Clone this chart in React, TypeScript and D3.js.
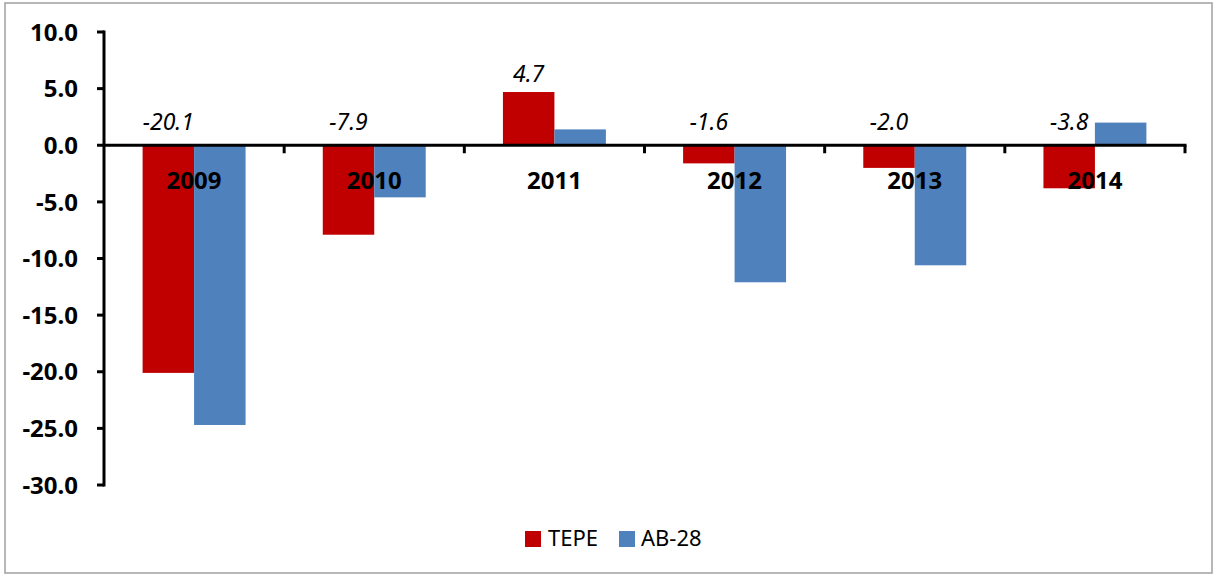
import React from "react";
import * as d3 from "d3";

const categories = ["2009", "2010", "2011", "2012", "2013", "2014"];
const seriesNames = ["TEPE", "AB-28"];
const tepe = [-20.1, -7.9, 4.7, -1.6, -2.0, -3.8];
const ab28 = [-24.7, -4.6, 1.4, -12.1, -10.6, 2.0];
const yTicks = [10, 5, 0, -5, -10, -15, -20, -25, -30];
const colors = ["#C00000", "#4F81BD"];

const W = 1216;
const H = 576;
const left = 104;
const right = 1185;
const top = 32;
const bottom = 485;
const font = "'Noto Sans', 'DejaVu Sans', sans-serif";

export default function App() {
  const y = d3.scaleLinear().domain([-30, 10]).range([bottom, top]);
  const x0 = d3.scaleBand<string>().domain(categories).range([left, right]).padding(0);
  const step = x0.bandwidth();
  const x1 = d3
    .scaleBand<string>()
    .domain(seriesNames)
    .range([step * (0.75 / 3.5), step * (2.75 / 3.5)])
    .padding(0);
  const series = [tepe, ab28];
  const y0 = y(0);
  const boundaries = d3.range(categories.length + 1).map((i) => left + i * step);

  return (
    <svg
      width={W}
      height={H}
      style={{ position: "absolute", left: 0, top: 0, background: "#fff" }}
      fontFamily={font}
    >
      <rect x={5} y={3} width={1207} height={570} fill="#fff" stroke="#a0a0a0" strokeWidth={1.5} />
      {series.map((vals, si) =>
        vals.map((v, ci) => {
          const bx = (x0(categories[ci]) as number) + (x1(seriesNames[si]) as number);
          return (
            <rect
              key={`${si}-${ci}`}
              x={bx}
              y={Math.min(y(v), y0)}
              width={x1.bandwidth()}
              height={Math.abs(y(v) - y0)}
              fill={colors[si]}
            />
          );
        })
      )}
      {/* y axis */}
      <line x1={left} x2={left} y1={top - 1.5} y2={bottom + 1.5} stroke="#000" strokeWidth={3} />
      {yTicks.map((t) => (
        <g key={t}>
          <line x1={left - 7} x2={left} y1={y(t)} y2={y(t)} stroke="#000" strokeWidth={3} />
          <text
            x={78}
            y={y(t)}
            dy="0.36em"
            textAnchor="end"
            fontSize={24}
            fontWeight="bold"
            fill="#000"
          >
            {t.toFixed(1)}
          </text>
        </g>
      ))}
      {/* x axis */}
      <line x1={left} x2={right + 1.5} y1={y0} y2={y0} stroke="#000" strokeWidth={3} />
      {boundaries.slice(1).map((bx, i) => (
        <line key={i} x1={bx} x2={bx} y1={y0} y2={y0 + 8} stroke="#000" strokeWidth={3} />
      ))}
      {categories.map((c) => (
        <text
          key={c}
          x={(x0(c) as number) + step / 2}
          y={189}
          textAnchor="middle"
          fontSize={24}
          fontWeight="bold"
          fill="#000"
        >
          {c}
        </text>
      ))}
      {/* data labels for TEPE */}
      {tepe.map((v, ci) => {
        const cx = (x0(categories[ci]) as number) + (x1("TEPE") as number) + x1.bandwidth() / 2;
        const ly = v >= 0 ? y(v) - 10 : y0 - 15;
        return (
          <text
            key={ci}
            x={cx}
            y={ly}
            textAnchor="middle"
            fontSize={23}
            fontStyle="italic"
            fill="#000"
          >
            {v.toFixed(1)}
          </text>
        );
      })}
      {/* legend */}
      <rect x={525} y={531} width={16} height={16} fill={colors[0]} />
      <text x={548} y={546} fontSize={22} fill="#000">
        {seriesNames[0]}
      </text>
      <rect x={619} y={531} width={16} height={16} fill={colors[1]} />
      <text x={641} y={546} fontSize={22} fill="#000">
        {seriesNames[1]}
      </text>
    </svg>
  );
}
